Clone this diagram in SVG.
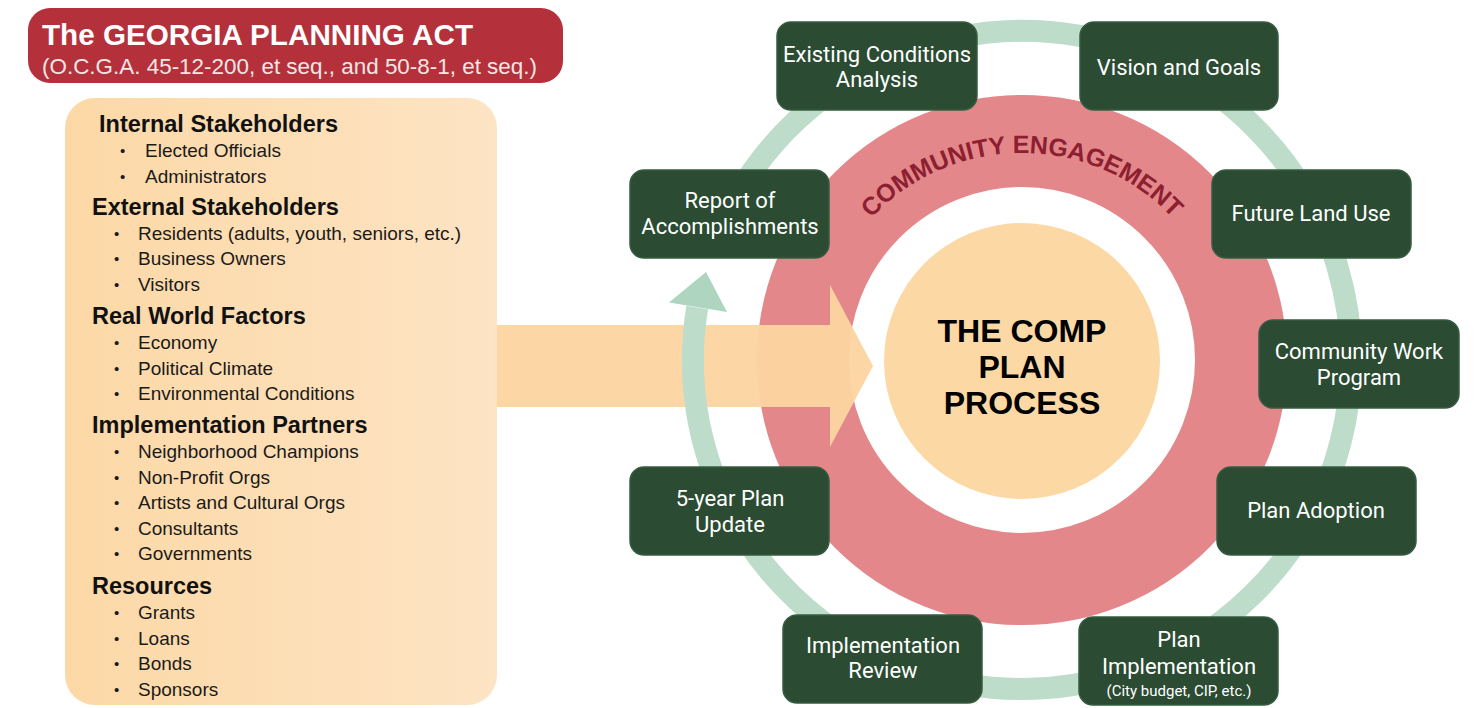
<svg xmlns="http://www.w3.org/2000/svg" width="1480" height="708" viewBox="0 0 1480 708">
<style>
.box{fill:#2b4b33;stroke:#365c40;stroke-width:1.5}
.bt{font-family:Roboto,"Liberation Sans",sans-serif;font-size:22px;fill:#ffffff;text-anchor:middle}
.bs{font-family:Roboto,"Liberation Sans",sans-serif;font-size:15px;fill:#ffffff;text-anchor:middle}
.h{font-family:"Liberation Sans",Arial,sans-serif;font-size:23.5px;font-weight:bold;fill:#111111}
.li{font-family:"Liberation Sans",Arial,sans-serif;font-size:19px;fill:#1a1a1a}
.bu{font-family:"Liberation Sans",Arial,sans-serif;font-size:15px;fill:#1a1a1a}
.ctr{font-family:"Liberation Sans",Arial,sans-serif;font-size:32px;font-weight:bold;fill:#000000;text-anchor:middle}
</style>
<defs>
<linearGradient id="lg" x1="0" y1="0" x2="1" y2="0">
<stop offset="0" stop-color="#fcd8a6"/>
<stop offset="1" stop-color="#fde4c4"/>
</linearGradient>
<path id="arcText" d="M 815 360 A 207 207 0 0 1 1229 360"/>
</defs>
<rect width="1480" height="708" fill="#ffffff"/>

<g id="title">
<rect x="28" y="8" width="535" height="75" rx="22" fill="#b4303a"/>
<text x="42" y="45" font-family="'Liberation Sans',Arial,sans-serif" font-size="30" font-weight="bold" fill="#ffffff" textLength="431" lengthAdjust="spacingAndGlyphs">The GEORGIA PLANNING ACT</text>
<text x="42" y="74" font-family="'Liberation Sans',Arial,sans-serif" font-size="22" fill="#f6e6e6" textLength="495" lengthAdjust="spacingAndGlyphs">(O.C.G.A. 45-12-200, et seq., and 50-8-1, et seq.)</text>
</g>

<g id="inputs">
<rect x="65" y="98" width="432" height="607" rx="30" fill="url(#lg)"/>
<text class="h" x="99" y="132">Internal Stakeholders</text>
<text class="bu" x="120" y="156">•</text><text class="li" x="145" y="157">Elected Officials</text>
<text class="bu" x="120" y="182">•</text><text class="li" x="145" y="183">Administrators</text>
<text class="h" x="92" y="215">External Stakeholders</text>
<text class="bu" x="114" y="239">•</text><text class="li" x="138" y="240">Residents (adults, youth, seniors, etc.)</text>
<text class="bu" x="114" y="264">•</text><text class="li" x="138" y="265">Business Owners</text>
<text class="bu" x="114" y="290">•</text><text class="li" x="138" y="291">Visitors</text>
<text class="h" x="92" y="324">Real World Factors</text>
<text class="bu" x="114" y="348">•</text><text class="li" x="138" y="349">Economy</text>
<text class="bu" x="114" y="374">•</text><text class="li" x="138" y="375">Political Climate</text>
<text class="bu" x="114" y="399">•</text><text class="li" x="138" y="400">Environmental Conditions</text>
<text class="h" x="92" y="433">Implementation Partners</text>
<text class="bu" x="114" y="457">•</text><text class="li" x="138" y="458">Neighborhood Champions</text>
<text class="bu" x="114" y="483">•</text><text class="li" x="138" y="484">Non-Profit Orgs</text>
<text class="bu" x="114" y="508">•</text><text class="li" x="138" y="509">Artists and Cultural Orgs</text>
<text class="bu" x="114" y="534">•</text><text class="li" x="138" y="535">Consultants</text>
<text class="bu" x="114" y="559">•</text><text class="li" x="138" y="560">Governments</text>
<text class="h" x="92" y="594">Resources</text>
<text class="bu" x="114" y="618">•</text><text class="li" x="138" y="619">Grants</text>
<text class="bu" x="114" y="644">•</text><text class="li" x="138" y="645">Loans</text>
<text class="bu" x="114" y="669">•</text><text class="li" x="138" y="670">Bonds</text>
<text class="bu" x="114" y="695">•</text><text class="li" x="138" y="696">Sponsors</text>
</g>

<g id="engagement">
<circle cx="1022" cy="360" r="219" fill="none" stroke="#e4878b" stroke-width="92"/>
<text font-family="'Liberation Sans',Arial,sans-serif" font-size="25" font-weight="bold" fill="#8c1f30" textLength="338" lengthAdjust="spacing"><textPath href="#arcText" startOffset="50%" text-anchor="middle">COMMUNITY ENGAGEMENT</textPath></text>
</g>

<g id="core">
<circle cx="1022" cy="361" r="138" fill="#fcd8a4"/>
<text class="ctr" x="1022" y="342">THE COMP</text>
<text class="ctr" x="1022" y="378">PLAN</text>
<text class="ctr" x="1022" y="414">PROCESS</text>
</g>

<g id="connectors">
<polygon points="497,325 830,325 830,285 873,366 830,447 830,407 497,407" fill="#fcd5a0" opacity="0.95"/>
<path d="M 712.8 247.5 A 329 329 0 1 1 697.2 307.4" fill="none" stroke="#bddcca" stroke-width="22"/>
<polygon points="706,272 669,302.5 727,312" fill="#aed5bf"/>
</g>

<g id="n-existing"><rect class="box" x="777" y="22" width="200" height="88" rx="14"/>
<text class="bt" x="877" y="62">Existing Conditions</text><text class="bt" x="877" y="87">Analysis</text></g>
<g id="n-vision"><rect class="box" x="1080" y="22" width="198" height="88" rx="14"/>
<text class="bt" x="1179" y="75">Vision and Goals</text></g>
<g id="n-report"><rect class="box" x="630" y="170" width="199" height="88" rx="14"/>
<text class="bt" x="730" y="208">Report of</text><text class="bt" x="730" y="234">Accomplishments</text></g>
<g id="n-futureland"><rect class="box" x="1212" y="170" width="199" height="88" rx="14"/>
<text class="bt" x="1311" y="221">Future Land Use</text></g>
<g id="n-cwp"><rect class="box" x="1259" y="320" width="200" height="88" rx="14"/>
<text class="bt" x="1359" y="359">Community Work</text><text class="bt" x="1359" y="385">Program</text></g>
<g id="n-update"><rect class="box" x="630" y="467" width="199" height="88" rx="14"/>
<text class="bt" x="730" y="506">5-year Plan</text><text class="bt" x="730" y="532">Update</text></g>
<g id="n-adoption"><rect class="box" x="1217" y="467" width="199" height="88" rx="14"/>
<text class="bt" x="1316" y="518">Plan Adoption</text></g>
<g id="n-review"><rect class="box" x="783" y="615" width="199" height="88" rx="14"/>
<text class="bt" x="883" y="653">Implementation</text><text class="bt" x="883" y="678">Review</text></g>
<g id="n-implementation"><rect class="box" x="1079" y="617" width="199" height="88" rx="14"/>
<text class="bt" x="1179" y="647">Plan</text><text class="bt" x="1179" y="674">Implementation</text><text class="bs" x="1179" y="696">(City budget, CIP, etc.)</text></g>
</svg>
